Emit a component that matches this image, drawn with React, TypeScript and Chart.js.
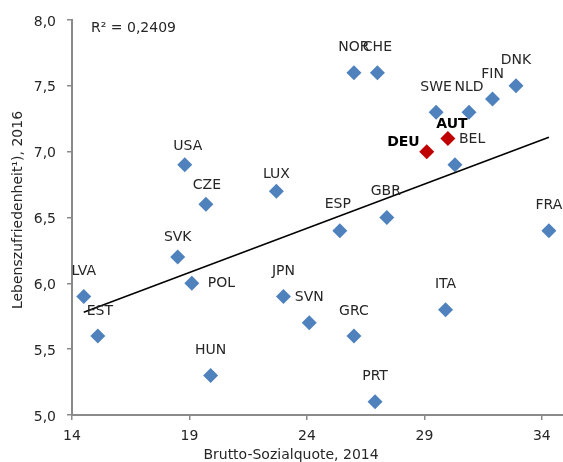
import React, { useEffect, useRef } from "react";
import { Chart, registerables } from "chart.js";

Chart.register(...registerables);

// ---- data ----
const countries = ["LVA", "EST", "HUN", "POL", "SVK", "CZE", "USA", "LUX", "JPN", "SVN", "GRC", "PRT", "ESP", "GBR", "ITA", "FRA", "NOR", "CHE", "SWE", "NLD", "FIN", "DNK", "AUT", "DEU", "BEL"];
const socialSpending = [14.5, 15.1, 19.9, 19.1, 18.5, 19.7, 18.8, 22.7, 23.0, 24.1, 26.0, 26.9, 25.4, 27.4, 29.9, 34.3, 26.0, 27.0, 29.5, 30.9, 31.9, 32.9, 30.0, 29.1, 30.3];
const lifeSatisfaction = [5.9, 5.6, 5.3, 6.0, 6.2, 6.6, 6.9, 6.7, 5.9, 5.7, 5.6, 5.1, 6.4, 6.5, 5.8, 6.4, 7.6, 7.6, 7.3, 7.3, 7.4, 7.5, 7.1, 7.0, 6.9];
const highlighted = ["DEU", "AUT"];
const trendX = [14.5, 34.3];
const trendY = [5.78, 7.11];
const xTicks = [14, 19, 24, 29, 34];
const yTicks = [5.0, 5.5, 6.0, 6.5, 7.0, 7.5, 8.0];
const rSquaredText = "R² = 0,2409";
const xTitle = "Brutto-Sozialquote, 2014";
const yTitle = "Lebenszufriedenheit¹), 2016";

// ---- styling ----
const FONT = "'DejaVu Sans', sans-serif";
const TEXT = "#262626";
const BLUE = "#4F81BD";
const RED = "#C00000";
const AXIS = "#8a8a8a";

type Place = { dx: number; dy: number; align: CanvasTextAlign };
const defaultPlace: Place = { dx: 0, dy: -25, align: "center" };
const labelPlacement: Record<string, Place> = {
  SVK: { dx: 0, dy: -20, align: "center" },
  USA: { dx: 3, dy: -18, align: "center" },
  CZE: { dx: 1, dy: -19, align: "center" },
  LUX: { dx: 0, dy: -17, align: "center" },
  POL: { dx: 16, dy: 0, align: "left" },
  EST: { dx: 2, dy: -25, align: "center" },
  DEU: { dx: -7, dy: -9, align: "right" },
  AUT: { dx: 4, dy: -14, align: "center" },
  BEL: { dx: 4, dy: -25, align: "left" },
  GBR: { dx: -1, dy: -26, align: "center" },
  ESP: { dx: -2, dy: -26, align: "center" },
};

const labelPlugin = {
  id: "pointLabels",
  afterDatasetsDraw(chart: any) {
    const ctx = chart.ctx as CanvasRenderingContext2D;
    const meta = chart.getDatasetMeta(0);
    ctx.save();
    ctx.textBaseline = "middle";
    ctx.fillStyle = TEXT;
    meta.data.forEach((pt: any, i: number) => {
      const name = countries[i];
      const p = labelPlacement[name] || defaultPlace;
      const bold = highlighted.includes(name);
      ctx.font = `${bold ? "bold " : ""}14px ${FONT}`;
      ctx.fillStyle = bold ? "#000" : TEXT;
      ctx.textAlign = p.align;
      ctx.fillText(name, pt.x + p.dx, pt.y + p.dy);
    });
    // R² text
    ctx.font = `14px ${FONT}`;
    ctx.fillStyle = TEXT;
    ctx.textAlign = "left";
    ctx.fillText(rSquaredText, 91, 28);
    // x title
    ctx.textAlign = "center";
    ctx.fillText(xTitle, 291, 455);
    // y title
    ctx.translate(18, 210);
    ctx.rotate(-Math.PI / 2);
    ctx.fillText(yTitle, 0, 0);
    ctx.restore();
  },
};

export default function App() {
  const ref = useRef<HTMLCanvasElement | null>(null);

  useEffect(() => {
    if (!ref.current) return;
    const chart = new Chart(ref.current, {
      type: "scatter",
      data: {
        datasets: [
          {
            label: "Länder",
            data: countries.map((_, i) => ({ x: socialSpending[i], y: lifeSatisfaction[i] })),
            pointStyle: "rectRot",
            pointRadius: 7.5,
            pointBorderWidth: 0,
            pointBackgroundColor: countries.map((c) => (highlighted.includes(c) ? RED : BLUE)),
            pointBorderColor: countries.map((c) => (highlighted.includes(c) ? RED : BLUE)),
            order: 2,
          },
          {
            label: "Trend",
            data: trendX.map((x, i) => ({ x, y: trendY[i] })),
            showLine: true,
            borderColor: "#000",
            borderWidth: 1.5,
            pointRadius: 0,
            order: 1,
          },
        ],
      },
      options: {
        responsive: false,
        animation: false,
        layout: { autoPadding: false, padding: { top: 20, right: 0, left: 0, bottom: 0 } },
        plugins: { legend: { display: false }, tooltip: { enabled: false } },
        scales: {
          x: {
            type: "linear",
            min: 14,
            max: 34.9,
            afterBuildTicks: (s: any) => {
              s.ticks = xTicks.map((v) => ({ value: v }));
            },
            afterFit: (s: any) => {
              s.height = 47;
              s.paddingLeft = 0;
              s.paddingRight = 0;
            },
            grid: { drawOnChartArea: false, drawTicks: true, tickLength: 5, color: AXIS, lineWidth: 1.5 },
            border: { display: true, color: AXIS, width: 2 },
            ticks: { font: { family: FONT, size: 14 }, color: TEXT, padding: 8, maxRotation: 0 },
          },
          y: {
            type: "linear",
            min: 5,
            max: 8,
            afterBuildTicks: (s: any) => {
              s.ticks = yTicks.map((v) => ({ value: v }));
            },
            afterFit: (s: any) => {
              s.width = 72;
            },
            grid: { drawOnChartArea: false, drawTicks: true, tickLength: 5, color: AXIS, lineWidth: 1.5 },
            border: { display: true, color: AXIS, width: 2 },
            ticks: {
              font: { family: FONT, size: 14 },
              color: TEXT,
              padding: 11,
              labelOffset: 2,
              callback: (v: any) => Number(v).toFixed(1).replace(".", ","),
            },
          },
        },
      },
      plugins: [labelPlugin],
    } as any);
    return () => chart.destroy();
  }, []);

  return (
    <div style={{ position: "absolute", left: 0, top: 0, width: 563, height: 462, background: "#fff" }}>
      <canvas ref={ref} width={563} height={462} />
    </div>
  );
}
